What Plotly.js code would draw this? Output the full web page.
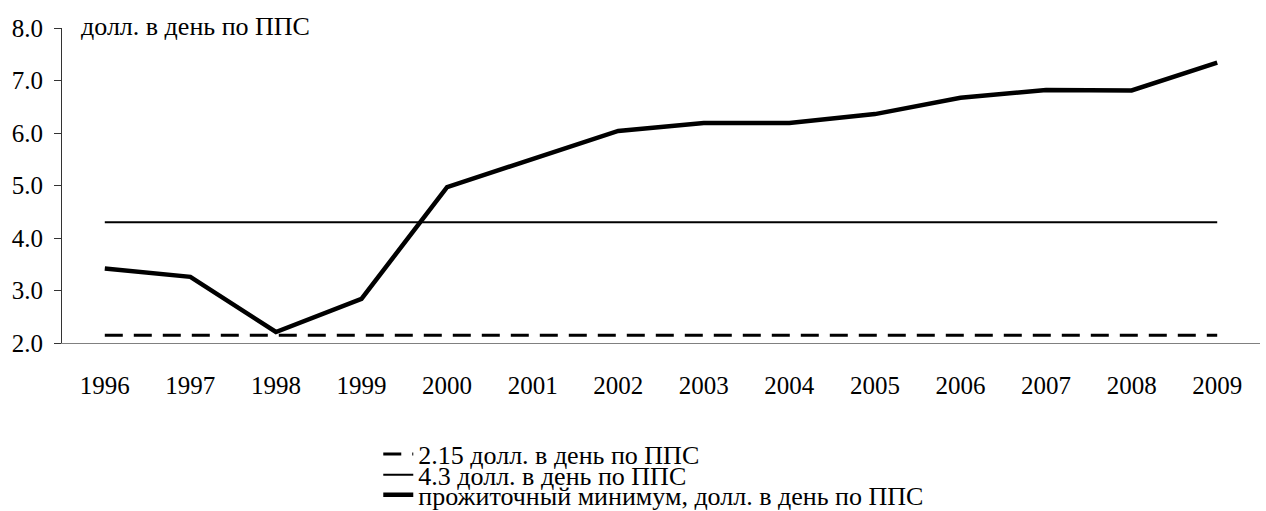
<!DOCTYPE html>
<html><head><meta charset="utf-8">
<script src="https://cdn.plot.ly/plotly-3.0.1.min.js"></script>
<style>html,body{margin:0;padding:0;background:#fff}#chart{width:1266px;height:511px}</style>
</head><body><div id="chart"></div>
<script>
var years = ['1996','1997','1998','1999','2000','2001','2002','2003','2004','2005','2006','2007','2008','2009'];
var line215 = [2.15,2.15,2.15,2.15,2.15,2.15,2.15,2.15,2.15,2.15,2.15,2.15,2.15,2.15];
var line43 = [4.3,4.3,4.3,4.3,4.3,4.3,4.3,4.3,4.3,4.3,4.3,4.3,4.3,4.3];
var subsistence = [3.42,3.26,2.21,2.84,4.97,5.5,6.04,6.19,6.19,6.36,6.67,6.82,6.81,7.34];
var names = ['2.15 долл. в день по ППС','4.3 долл. в день по ППС','прожиточный минимум, долл. в день по ППС'];
var unitLabel = 'долл. в день по ППС';

var fam = 'Liberation Serif, Times New Roman, serif';
var traces = [
 {x:years, y:line215, name:names[0], legend:'legend', mode:'lines', line:{color:'#000', width:3, dash:'18px,11px'}},
 {x:years, y:line43, name:names[1], legend:'legend2', mode:'lines', line:{color:'#000', width:2}},
 {x:years, y:subsistence, name:names[2], legend:'legend3', mode:'lines', line:{color:'#000', width:4.5}}
];
function leg(yc){
  return {x:0.264, xanchor:'left', yref:'container', y:yc, yanchor:'middle',
          font:{family:fam, size:26, color:'#000'}, bgcolor:'rgba(0,0,0,0)', borderwidth:0};
}
var layout = {
 width:1266, height:511,
 margin:{l:62, r:6, t:28, b:168, autoexpand:false},
 paper_bgcolor:'#fff', plot_bgcolor:'#fff',
 font:{family:fam, size:25, color:'#000'},
 showlegend:true,
 legend:leg(0.1115), legend2:leg(0.0705), legend3:leg(0.0315),
 xaxis:{type:'category', range:[-0.5,13.5], showline:true, linecolor:'#808080', linewidth:1, showgrid:false, zeroline:false, ticks:'', tickfont:{family:fam, size:25, color:'#000'}, ticklabelstandoff:20},
 yaxis:{range:[2,8], dtick:1, tick0:2, tickformat:'.1f', showline:true, linecolor:'#333', linewidth:1, showgrid:false, zeroline:false, ticks:'outside', ticklen:7, tickcolor:'#333', tickfont:{family:fam, size:25, color:'#000'}, ticklabelstandoff:6},
 annotations:[{text:unitLabel, xref:'paper', yref:'paper', x:0.014, y:1.005, xanchor:'left', yanchor:'middle', showarrow:false, font:{family:fam, size:26, color:'#000'}}]
};
Plotly.newPlot('chart', traces, layout, {displayModeBar:false, staticPlot:true});
</script></body></html>
